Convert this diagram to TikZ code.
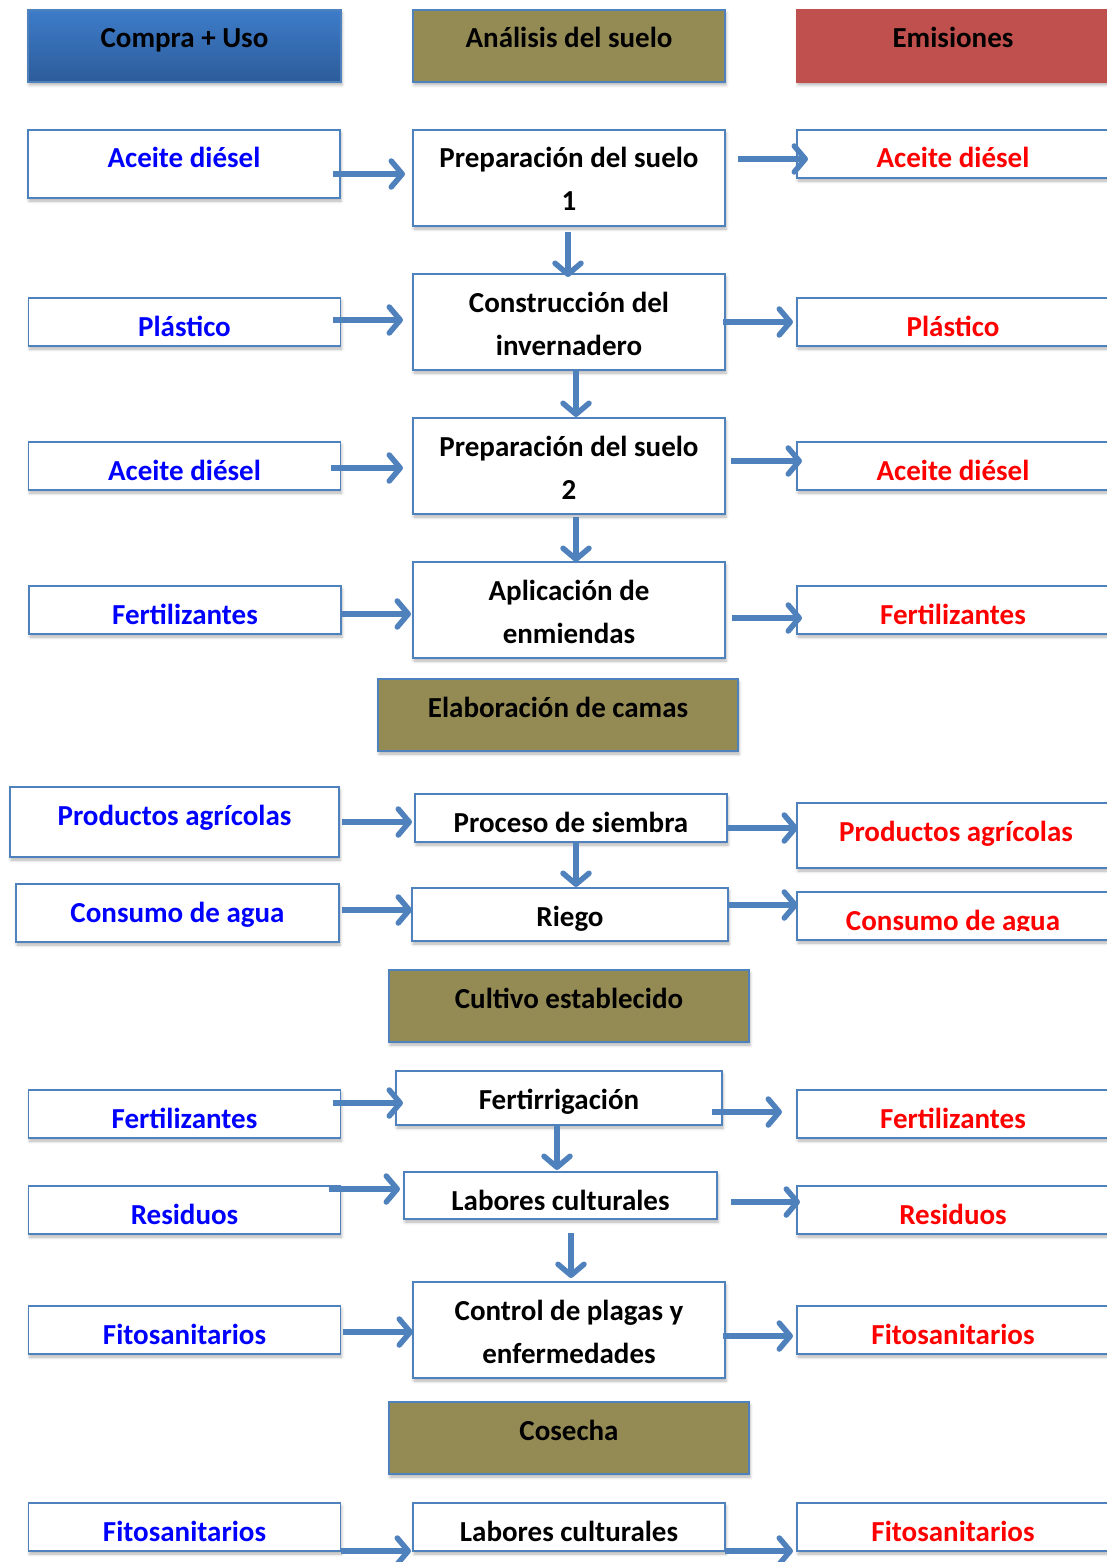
\documentclass[tikz,border=0pt]{standalone}
\usepackage{fontspec}
\setmainfont{Carlito}
\usetikzlibrary{arrows.meta,shadows.blur}

\definecolor{lineblue}{HTML}{4F81BD}
\definecolor{olivebox}{HTML}{948A54}
\definecolor{redbox}{HTML}{C0504D}
\definecolor{bluetop}{HTML}{3D7CC9}
\definecolor{bluebot}{HTML}{2D5C9A}
\definecolor{intext}{HTML}{0000FF}
\definecolor{outtext}{HTML}{FF0000}

\tikzset{
  base drop/.initial=38,
  boxlabel/.style 2 args={path picture={
      \clip ([shift={(0,-10)}]path picture bounding box.south west) rectangle (path picture bounding box.north east);
      \node[anchor=base,align=center,inner sep=0pt,minimum width=0pt,minimum height=0pt,text=#1,
            font=\bfseries\fontsize{29pt}{43pt}\selectfont]
        at ([shift={(0,\pgfkeysvalueof{/tikz/base drop})}]path picture bounding box.north) {#2};}},
  box/.style={draw=lineblue,line width=1.6pt,fill=white,inner sep=0pt,outer sep=0pt,
      blur shadow={shadow xshift=1pt,shadow yshift=-3pt,shadow blur radius=3pt,shadow opacity=30}},
  inbox/.style={box,minimum width=312pt,minimum height=48pt,boxlabel={intext}{#1}},
  outbox/.style={box,minimum width=312pt,minimum height=48pt,boxlabel={outtext}{#1}},
  stepbox/.style={box,minimum width=312pt,minimum height=96pt,boxlabel={black}{#1}},
  twolines/.style={base drop=81},
  stage/.style={box,fill=olivebox,minimum width=360pt,minimum height=72pt,boxlabel={black}{#1}},
  flow/.style={draw=lineblue,line width=5.5pt,-{Straight Barb[length=11pt,width=26pt,line width=0pt 1,round]}}
}

\begin{document}
\begin{tikzpicture}[x=1pt,y=-1pt]
  \clip[use as bounding box] (0,0) rectangle (1107,1562);

  % column heads
  \node (H1) at (184.5,46) [box,top color=bluetop,bottom color=bluebot,minimum width=313pt,minimum height=72pt,boxlabel={black}{Compra + Uso}]{};
  \node (H2) at (569,46) [stage={Análisis del suelo},minimum width=312pt]{};
  \node (H3) at (953,46) [box,fill=redbox,draw=redbox,minimum width=312pt,minimum height=72pt,boxlabel={black}{Emisiones}]{};

  \node (L1) at (184,164) [inbox={Aceite diésel},minimum height=68pt]{};
  \node (C1) at (569,178) [stepbox={Preparación del suelo\\1},twolines]{};
  \node (R1) at (953,154) [outbox={Aceite diésel}]{};
  \node (L2) at (184.5,322) [inbox={Plástico}]{};
  \node (C2) at (569,322) [stepbox={Construcción del\\invernadero},twolines]{};
  \node (R2) at (953,322) [outbox={Plástico}]{};
  \node (L3) at (184.5,466) [inbox={Aceite diésel}]{};
  \node (C3) at (569,466) [stepbox={Preparación del suelo\\2},twolines]{};
  \node (R3) at (953,466) [outbox={Aceite diésel}]{};
  \node (L4) at (185,610) [inbox={Fertilizantes}]{};
  \node (C4) at (569,610) [stepbox={Aplicación de\\enmiendas},twolines]{};
  \node (R4) at (953,610) [outbox={Fertilizantes}]{};

  \node (H4) at (558,715) [stage={Elaboración de camas}]{};

  \node (L5) at (174.5,822) [inbox={Productos agrícolas},minimum width=329pt,minimum height=70pt]{};
  \node (C5) at (571,818) [stepbox={Proceso de siembra},minimum height=48pt]{};
  \node (R5) at (956,835.5) [outbox={Productos agrícolas},minimum width=318pt,minimum height=65pt]{};
  \node (L6) at (177.5,913) [inbox={Consumo de agua},minimum width=323pt,minimum height=58pt]{};
  \node (C6) at (570,914.5) [stepbox={Riego},minimum width=316pt,minimum height=53pt]{};
  \node (R6) at (953,916) [outbox={Consumo de agua}]{};

  \node (H5) at (569,1006) [stage={Cultivo establecido}]{};

  \node (L7) at (184.5,1114) [inbox={Fertilizantes}]{};
  \node (C7) at (559,1098) [stepbox={Fertirrigación},minimum width=326pt,minimum height=54pt]{};
  \node (R7) at (953,1114) [outbox={Fertilizantes}]{};
  \node (L8) at (184.5,1210) [inbox={Residuos}]{};
  \node (C8) at (560.5,1195.5) [stepbox={Labores culturales},minimum width=313pt,minimum height=47pt]{};
  \node (R8) at (953,1210) [outbox={Residuos}]{};
  \node (L9) at (184.5,1330) [inbox={Fitosanitarios}]{};
  \node (C9) at (569,1330) [stepbox={Control de plagas y\\enfermedades},twolines]{};
  \node (R9) at (953,1330) [outbox={Fitosanitarios}]{};

  \node (H6) at (569,1438) [stage={Cosecha}]{};

  \node (L10) at (184.5,1527) [inbox={Fitosanitarios}]{};
  \node (C10) at (569,1527) [stepbox={Labores culturales},minimum height=48pt]{};
  \node (R10) at (953,1527) [outbox={Fitosanitarios}]{};

  % inputs
  \draw [flow] ([shift={(-7,10)}]L1.east) -- ([shift={(-8,-4)}]C1.west);
  \draw [flow] ([shift={(-8,-2)}]L2.east) -- ([shift={(-10,-2)}]C2.west);
  \draw [flow] ([shift={(-10,2)}]L3.east) -- ([shift={(-10,2)}]C3.west);
  \draw [flow] ([shift={(0,4)}]L4.east) -- ([shift={(-2,4)}]C4.west);
  \draw [flow] ([shift={(3,0)}]L5.east) -- ([shift={(-3,4)}]C5.west);
  \draw [flow] ([shift={(3,-3)}]L6.east) -- ([shift={(0,-4.5)}]C6.west);
  \draw [flow] ([shift={(-8,-11)}]L7.east) -- ([shift={(7,5)}]C7.west);
  \draw [flow] ([shift={(-12,-21)}]L8.east) -- ([shift={(-4,-6.5)}]C8.west);
  \draw [flow] ([shift={(2,2)}]L9.east) -- ([shift={(0,2)}]C9.west);
  \draw [flow] ([shift={(0,24)}]L10.east) -- ([shift={(-2,24)}]C10.west);

  % emissions
  \draw [flow] ([shift={(13,-19)}]C1.east) -- ([shift={(11,5)}]R1.west);
  \draw [flow] ([shift={(-2,0)}]C2.east) -- ([shift={(-4,0)}]R2.west);
  \draw [flow] ([shift={(6,-5)}]C3.east) -- ([shift={(5,-5)}]R3.west);
  \draw [flow] ([shift={(7,8)}]C4.east) -- ([shift={(5,8)}]R4.west);
  \draw [flow] ([shift={(1,10)}]C5.east) -- ([shift={(1,-7.5)}]R5.west);
  \draw [flow] ([shift={(0,-9.5)}]C6.east) -- ([shift={(1,-11)}]R6.west);
  \draw [flow] ([shift={(-10,14)}]C7.east) -- ([shift={(-15,-2)}]R7.west);
  \draw [flow] ([shift={(14,6.5)}]C8.east) -- ([shift={(3,-8)}]R8.west);
  \draw [flow] ([shift={(-2,6)}]C9.east) -- ([shift={(-4,6)}]R9.west);
  \draw [flow] ([shift={(0,24)}]C10.east) -- ([shift={(-4,24)}]R10.west);

  % sequence
  \draw [flow] ([shift={(-1,6)}]C1.south) -- ([shift={(-1,3)}]C2.north);
  \draw [flow] ([shift={(7,1)}]C2.south) -- ([shift={(7,-1)}]C3.north);
  \draw [flow] ([shift={(7,3)}]C3.south) -- ([shift={(7,0)}]C4.north);
  \draw [flow] ([shift={(5,0)}]C5.south) -- ([shift={(6,-1)}]C6.north);
  \draw [flow] ([shift={(-2,-1)}]C7.south) -- ([shift={(-3.5,-2)}]C8.north);
  \draw [flow] ([shift={(10.5,14)}]C8.south) -- ([shift={(2,-4)}]C9.north);
\end{tikzpicture}
\end{document}
